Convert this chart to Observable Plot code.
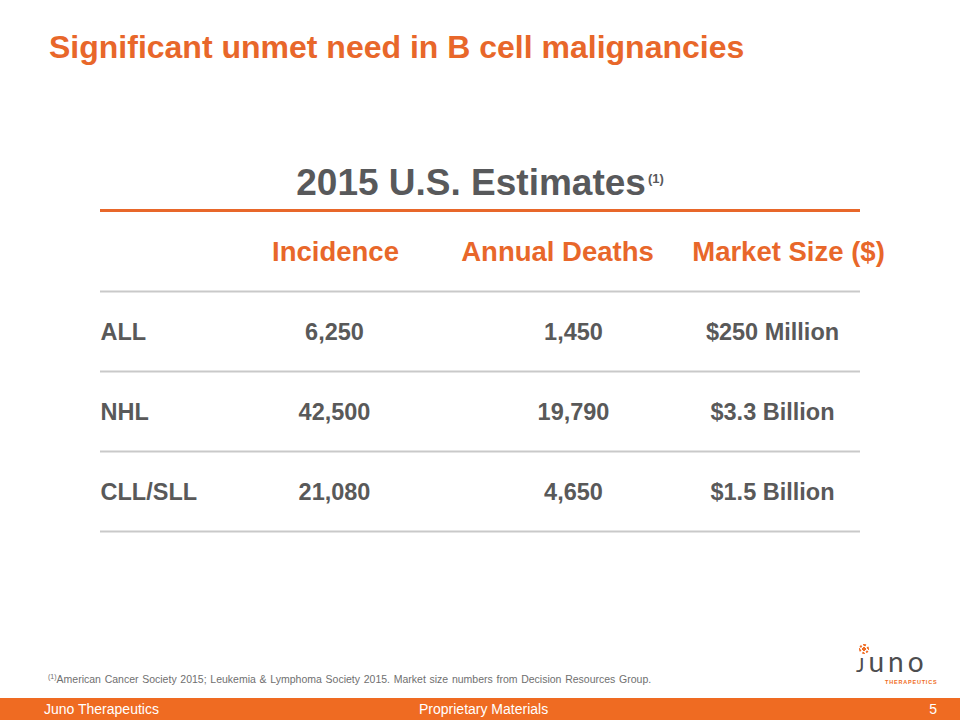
<!DOCTYPE html>
<html>
<head>
<meta charset="utf-8">
<script src="https://cdn.jsdelivr.net/npm/d3@7"></script>
<script src="https://cdn.jsdelivr.net/npm/@observablehq/plot@0.6"></script>
<style>
  html, body { margin: 0; padding: 0; background: #fff; }
  #slide { position: relative; width: 960px; height: 720px; overflow: hidden; background: #fff;
           font-family: "Liberation Sans", Arial, sans-serif; }
  #chart { position: absolute; left: 0; top: 0; }
  .abs { position: absolute; white-space: nowrap; line-height: 1; }
  #title { left: 49px; top: 31px; font-size: 32px; font-weight: bold; color: #E8672A; }
  #subtitle { left: 0; width: 960px; top: 164px; text-align: center; font-size: 37px; font-weight: bold; color: #58595B; }
  #subtitle sup { font-size: 13px; vertical-align: 0; position: relative; top: -12.5px; margin-left: 2px; }
  #footnote { left: 48px; top: 674px; font-size: 10.5px; color: #6f6f6f; word-spacing: 0.8px; }
  #footnote sup { font-size: 7px; position: relative; top: -4px; vertical-align: 0; }
  #footer { position: absolute; left: 0; top: 698px; width: 960px; height: 22px; background: #EF6B22; }
  #footer span { position: absolute; top: 4px; font-size: 14px; color: #fff; line-height: 1; white-space: nowrap; }
  #logo-sun { position: absolute; left: 859px; top: 644px; width: 6px; height: 6px; border-radius: 50%;
              border: 2px dotted #EF6B22; background: radial-gradient(circle, #EF6B22 45%, transparent 50%); }
  #logo-word { left: 856px; top: 647px; font-size: 28px; color: #4d4d4f; font-family: Lato, "Open Sans", sans-serif;
               font-weight: 400; letter-spacing: 4px; }
  #logo-ther { left: 885px; top: 680px; font-size: 5.5px; font-weight: bold; color: #EF6B22; letter-spacing: 0.8px; }
</style>
</head>
<body>
<div id="slide">
  <div id="chart"></div>
  <div id="title" class="abs">Significant unmet need in B cell malignancies</div>
  <div id="subtitle" class="abs">2015 U.S. Estimates<sup>(1)</sup></div>
  <div id="footnote" class="abs"><sup>(1)</sup>American Cancer Society 2015; Leukemia &amp; Lymphoma Society 2015. Market size numbers from Decision Resources Group.</div>
  <div id="logo-sun"></div>
  <div id="logo-word" class="abs"><span style="font-variant: small-caps">j</span>uno</div>
  <div id="logo-ther" class="abs">THERAPEUTICS</div>
  <div id="footer">
    <span style="left:44px">Juno Therapeutics</span>
    <span style="left:419px">Proprietary Materials</span>
    <span style="right:23px">5</span>
  </div>
</div>
<script>
// ---- data ----
const rowLabels = ["ALL", "NHL", "CLL/SLL"];
const columns = ["Incidence", "Annual Deaths", "Market Size ($)"];
const incidence = [6250, 42500, 21080];
const annualDeaths = [1450, 19790, 4650];
const marketSizeMillions = [250, 3300, 1500];

// ---- build table ----
const fmtInt = d3.format(",");
const fmtMoney = v => v >= 1000 ? `$${v / 1000} Billion` : `$${v} Million`;
const rows = rowLabels.map((name, i) => ({
  name,
  "Incidence": fmtInt(incidence[i]),
  "Annual Deaths": fmtInt(annualDeaths[i]),
  "Market Size ($)": fmtMoney(marketSizeMillions[i])
}));

const orange = "#E8672A";
const gray = "#595959";
const valueDx = [0, 20, 0];
const headerDx = [1, 4, 16];

const marks = [
  // orange rule under the subtitle
  Plot.ruleY(["header"], {y: d => d, dy: -42, stroke: orange, strokeWidth: 3}),
  // gray separators below header and each row
  Plot.ruleY(["header", ...rowLabels], {y: d => d, dy: 39, stroke: "#c9c9c9", strokeWidth: 2}),
  // row labels
  Plot.text(rowLabels, {y: d => d, text: d => d, frameAnchor: "left", textAnchor: "start",
    fill: gray, fontSize: 23.5, fontWeight: "bold"})
];
columns.forEach((c, i) => {
  marks.push(Plot.text([c], {x: d => d, y: () => "header", text: d => d, dx: headerDx[i],
    fill: orange, fontSize: 27.5, fontWeight: "bold"}));
  marks.push(Plot.text(rows, {x: () => c, y: "name", text: d => d[c], dx: valueDx[i],
    fill: gray, fontSize: 23.5, fontWeight: "bold"}));
});

const chart = Plot.plot({
  width: 960,
  height: 720,
  marginLeft: 100,
  marginRight: 100,
  marginTop: 0,
  marginBottom: 0,
  style: {fontFamily: "'Liberation Sans', Arial, sans-serif", background: "transparent"},
  x: {type: "point", domain: columns, range: [334, 772], padding: 0, axis: null},
  y: {type: "point", domain: ["header", ...rowLabels], range: [252, 492], padding: 0, axis: null},
  marks
});
document.getElementById("chart").appendChild(chart);
</script>
</body>
</html>
